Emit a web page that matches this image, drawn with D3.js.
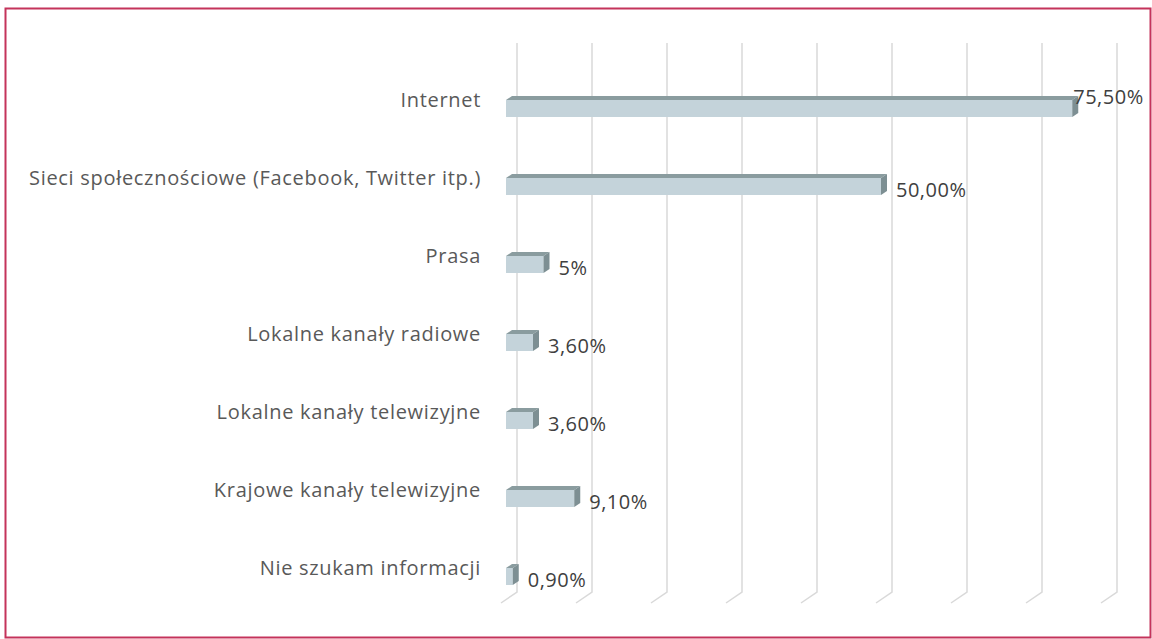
<!DOCTYPE html>
<html>
<head>
<meta charset="utf-8">
<script src="https://cdn.jsdelivr.net/npm/d3@7"></script>
<style>
  html, body { margin: 0; padding: 0; background: #fff; }
  svg { display: block; }
</style>
</head>
<body>
<svg></svg>
<script>
// dane wykresu
const categories = [
    "Internet",
    "Sieci społecznościowe (Facebook, Twitter itp.)",
    "Prasa",
    "Lokalne kanały radiowe",
    "Lokalne kanały telewizyjne",
    "Krajowe kanały telewizyjne",
    "Nie szukam informacji"
];
const values = [75.5, 50, 5, 3.6, 3.6, 9.1, 0.9];
const valueLabels = ["75,50%", "50,00%", "5%", "3,60%", "3,60%", "9,10%", "0,90%"];
const gridTicks = [0, 10, 20, 30, 40, 50, 60, 70, 80];

document.addEventListener("DOMContentLoaded", function() {
    const width = 1152;
    const height = 639;
    const svg = d3.select("svg")
        .attr("width", width)
        .attr("height", height);

    const font = "'Open Sans', Lato, sans-serif";

    // ramka
    svg.append("rect")
        .attr("x", 5.5).attr("y", 8.5)
        .attr("width", 1145).attr("height", 629)
        .attr("fill", "#fff")
        .attr("stroke", "#c4335b")
        .attr("stroke-width", 2);

    // skale
    const x = d3.scaleLinear().domain([0, 80]).range([517, 1117]);
    const y = d3.scaleBand().domain(categories).range([69.5, 615.5]).padding(0);

    const wallTop = 43, wallBottom = 592;
    const depthX = 16, depthY = 11;   // głębokość podłogi 3D
    const barShiftX = 11;             // przód słupka względem tylnej ściany
    const barH = 17, capX = 6, capY = 4;

    // linie siatki (ściana + podłoga)
    svg.append("g")
        .selectAll("path")
        .data(gridTicks)
        .join("path")
        .attr("d", d => `M${x(d)},${wallTop}L${x(d)},${wallBottom}L${x(d) - depthX},${wallBottom + depthY}`)
        .attr("fill", "none")
        .attr("stroke", "#d9d9d9")
        .attr("stroke-width", 1.5);

    const rows = categories.map((c, i) => ({
        cat: c,
        v: values[i],
        label: valueLabels[i],
        cy: y(c) + y.bandwidth() / 2,
        x0: x(0) - barShiftX,
        x1: x(values[i]) - barShiftX
    }));

    const bars = svg.append("g").selectAll("g").data(rows).join("g");

    // górna ściana
    bars.append("path")
        .attr("d", d => {
            const t = d.cy - barH / 2;
            return `M${d.x0},${t}L${d.x0 + capX},${t - capY}L${d.x1 + capX},${t - capY}L${d.x1},${t}Z`;
        })
        .attr("fill", "#8a9c9f");

    // przód
    bars.append("rect")
        .attr("x", d => d.x0)
        .attr("y", d => d.cy - barH / 2)
        .attr("width", d => d.x1 - d.x0)
        .attr("height", barH)
        .attr("fill", "#c4d3da");

    // bok
    bars.append("path")
        .attr("d", d => {
            const t = d.cy - barH / 2, b = d.cy + barH / 2;
            return `M${d.x1},${t}L${d.x1 + capX},${t - capY}L${d.x1 + capX},${b - capY}L${d.x1},${b}Z`;
        })
        .attr("fill", "#7d8f93");

    // etykiety kategorii
    svg.append("g")
        .selectAll("text")
        .data(rows)
        .join("text")
        .attr("x", 481)
        .attr("y", d => d.cy - 2)
        .attr("text-anchor", "end")
        .attr("font-family", font)
        .attr("font-size", 20)
        .attr("letter-spacing", 0.7)
        .attr("fill", "#595959")
        .text(d => d.cat);

    // etykiety wartości
    svg.append("g")
        .selectAll("text")
        .data(rows)
        .join("text")
        .attr("x", d => d.v > 70 ? d.x1 + 1 : d.x1 + 15)
        .attr("y", d => d.v > 70 ? d.cy - 5 : d.cy + 10.5)
        .attr("font-family", font)
        .attr("font-size", 20)
        .attr("letter-spacing", 0.5)
        .attr("fill", "#404040")
        .text(d => d.label);
});
</script>
</body>
</html>
